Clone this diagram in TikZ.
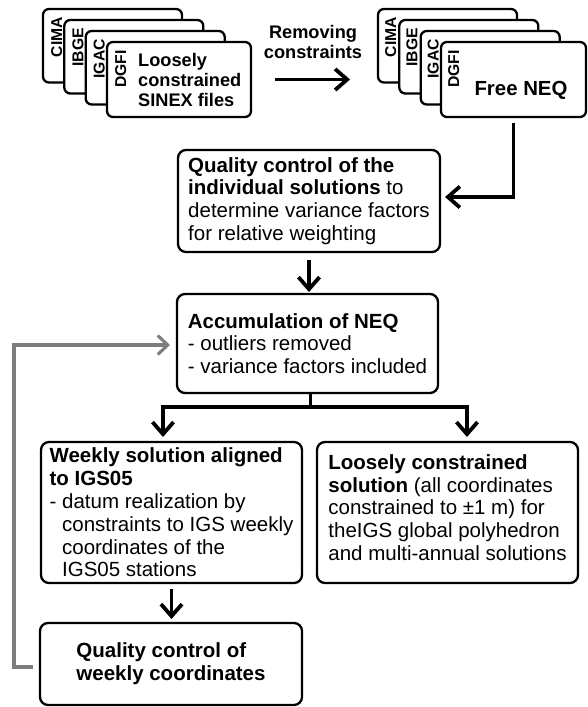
\documentclass[tikz,border=0pt]{standalone}
\usepackage{fontspec}
\setmainfont{Liberation Sans}
\usetikzlibrary{arrows.meta}
\definecolor{fbgray}{RGB}{125,125,125}
\newcommand{\fsmain}{\fontsize{20.5}{22.8}\selectfont}
\newcommand{\fscard}{\fontsize{18.2}{20}\selectfont\bfseries}
\newcommand{\fslbl}{\fontsize{15.7}{17}\selectfont\bfseries}
\begin{document}
\begin{tikzpicture}[x=1pt,y=-1pt,
  card/.style={draw, line width=2.3pt, rounded corners=6pt, fill=white,
    minimum width=139pt, minimum height=73.5pt, inner sep=0pt, outer sep=0pt, anchor=north west},
  frontcard/.style={card, minimum width=144pt, minimum height=75pt},
  cardlbl/.style={rotate=90, anchor=base east, inner sep=0pt, font=\fslbl},
  box/.style={draw, line width=2.3pt, rounded corners=8pt, fill=white,
    inner sep=0pt, outer sep=0pt, align=left, font=\fsmain},
  arr/.style={line width=3.8pt, -{Straight Barb[length=12pt,width=21pt]}},
  garr/.style={draw=fbgray, line width=3.1pt, -{Straight Barb[length=10pt,width=19pt]}}
]
\useasboundingbox (0,0) rectangle (588,707);
\fill[white] (0,0) rectangle (588,707);

% left stack
\node[card] (cimaL) at (43,9) {};
\node[cardlbl] (cimaLt) at ([xshift=19pt,yshift=-8pt]cimaL.north west) {CIMA};
\node[card] (ibgeL) at (64.3,20) {};
\node[cardlbl] (ibgeLt) at ([xshift=19pt,yshift=-8pt]ibgeL.north west) {IBGE};
\node[card] (igacL) at (85.7,31) {};
\node[cardlbl] (igacLt) at ([xshift=19pt,yshift=-8pt]igacL.north west) {IGAC};
\node[frontcard] (dgfiL) at (107,42) {};
\node[cardlbl] (dgfiLt) at ([xshift=19pt,yshift=-8pt]dgfiL.north west) {DGFI};
\node[font=\fscard, align=left, anchor=west, inner sep=0pt] (lctext) at (138,80.4)
  {Loosely\\constrained\\SINEX files};

% right stack
\node[card] (cimaR) at (378,9) {};
\node[cardlbl] (cimaRt) at ([xshift=18pt,yshift=-8pt]cimaR.north west) {CIMA};
\node[card] (ibgeR) at (399.3,20) {};
\node[cardlbl] (ibgeRt) at ([xshift=18pt,yshift=-8pt]ibgeR.north west) {IBGE};
\node[card] (igacR) at (420.7,31) {};
\node[cardlbl] (igacRt) at ([xshift=18pt,yshift=-8pt]igacR.north west) {IGAC};
\node[frontcard, minimum width=145pt] (freeq) at (441,42) {};
\node[cardlbl] (dgfiRt) at ([xshift=18pt,yshift=-8pt]freeq.north west) {DGFI};
\node[font={\fontsize{20.4}{22}\selectfont\bfseries}, inner sep=0pt] (freetxt) at (521,90) {Free NEQ};

% removing constraints
\node[font=\fscard, align=center, inner sep=0pt] (rmtxt) at (313,42) {Removing\\constraints};
\draw[arr, shorten <=24pt, shorten >=28pt] (dgfiL.east) -- (dgfiL.east -| cimaR.west);

% boxes
\node[box, minimum width=262pt, minimum height=102pt] (qc1) at (309,201)
  {\textbf{Quality control of the}\\\textbf{individual solutions} to\\determine variance factors\\for relative weighting};
\node[box, minimum width=261pt, minimum height=99pt] (acc) at (307.5,343.5)
  {\textbf{Accumulation of NEQ}\\- outliers removed\\- variance factors included};
\node[box, minimum width=261pt, minimum height=141pt] (weekly) at (171.5,512.5)
  {\textbf{Weekly solution aligned}\\\textbf{to IGS05}\\- datum realization by\\\hspace*{12.5pt}constraints to IGS weekly\\\hspace*{12.5pt}coordinates of the\\\hspace*{12.5pt}IGS05 stations};
\node[box, minimum width=261pt, minimum height=141pt] (loose) at (447.5,512.5)
  {\textbf{Loosely constrained}\\\textbf{solution} (all coordinates\\constrained to ±1 m) for\\theIGS global polyhedron\\and multi-annual solutions\rule[-10pt]{0pt}{10pt}};
\node[box, minimum width=262pt, minimum height=82pt] (qcw) at (171,664)
  {\textbf{Quality control of}\\\textbf{weekly coordinates}};

% connectors
\draw[arr, shorten <=6pt, shorten >=5pt] (freeq.south) |- ([yshift=4pt]qc1.east);
\draw[arr, shorten <=8pt, shorten >=2pt] (qc1.south) -- (qc1.south |- acc.north);
\draw[line width=3.8pt] ([xshift=3pt]acc.south) -- ++(0,14) coordinate (brc);
\draw[arr, shorten >=5pt] (brc) -| ([xshift=-8.5pt]weekly.north);
\draw[arr, shorten >=5pt] (brc) -| ([xshift=19.5pt]loose.north);
\draw[arr, shorten <=6pt, shorten >=4pt] (weekly.south) -- (weekly.south |- qcw.north);
\draw[garr, shorten <=7pt, shorten >=7pt] ([yshift=-3pt]qcw.west) -- ++(-26,0) |- ([yshift=-1.5pt]acc.west);
\end{tikzpicture}
\end{document}
